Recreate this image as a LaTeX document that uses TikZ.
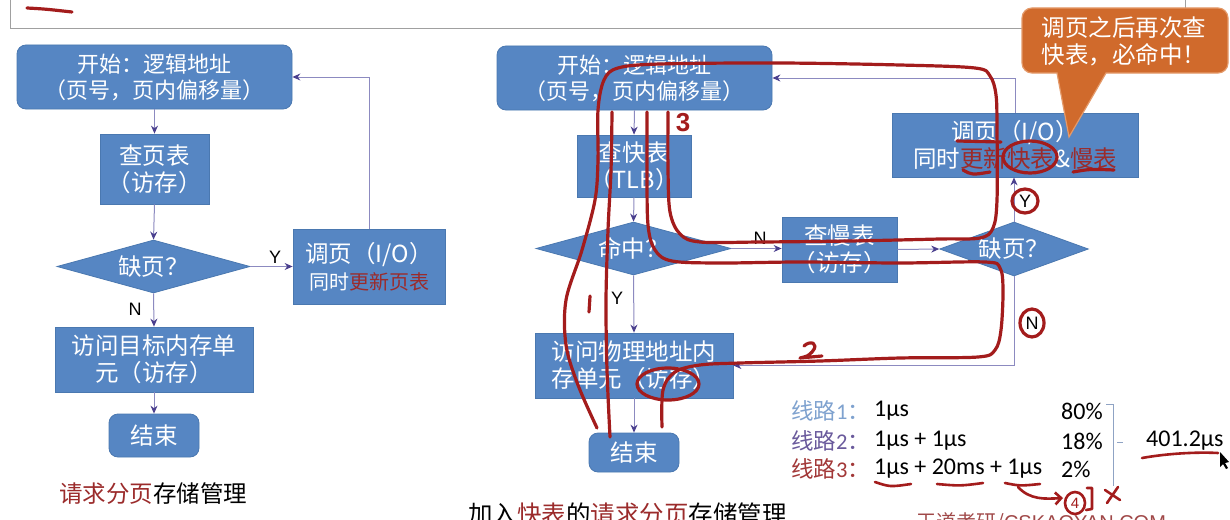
\documentclass[tikz,border=0pt]{standalone}
\usepackage{fontspec}
\setmainfont{Noto Sans CJK SC}
\newfontfamily\calfont{Carlito}
\newfontfamily\arifont{Liberation Sans}
\usetikzlibrary{shapes.geometric,arrows.meta}
\definecolor{boxblue}{HTML}{5686C3}
\definecolor{boxedge}{HTML}{4A78B0}
\definecolor{connc}{HTML}{8C8AC0}
\definecolor{tipc}{HTML}{4A3F8E}
\definecolor{dred}{HTML}{9B2B2B}
\definecolor{handred}{HTML}{A31C1C}
\definecolor{calloutc}{HTML}{D06A2C}
\definecolor{calloute}{HTML}{E49A6A}
\definecolor{lineone}{HTML}{7FA2CF}
\definecolor{linetwo}{HTML}{6A5A9C}
\definecolor{linethree}{HTML}{A23838}
\definecolor{framec}{HTML}{A0A0A0}
\definecolor{bracec}{HTML}{8FA3C4}
\definecolor{wmark}{HTML}{A04848}
\tikzset{
 box/.style={draw=boxedge, line width=0.8pt, fill=boxblue, text=white, inner sep=0pt, align=center, font=\fontsize{23.5}{27}\selectfont},
 rbox/.style={box, rounded corners=9pt},
 startbox/.style={rbox, font=\fontsize{22}{26}\selectfont},
 dia/.style={box, shape=diamond, shape aspect=3.6},
 conn/.style={draw=connc, line width=1pt, -{Stealth[length=8pt,width=7pt,color=tipc]}},
 yn/.style={font=\arifont\fontsize{18}{18}\selectfont, text=black, inner sep=0pt},
 hand/.style={draw=handred, line width=3.2pt, line cap=round, line join=round},
 handlab/.style={text=handred, font=\arifont\bfseries\fontsize{26}{26}\selectfont, inner sep=0pt},
 rowlab/.style={anchor=west, inner sep=0pt, font=\fontsize{22.5}{23}\selectfont},
 rowval/.style={anchor=west, inner sep=0pt, font=\calfont\fontsize{24}{24}\selectfont, text=black},
}
\begin{document}
\begin{tikzpicture}[x=1pt,y=-1pt]
\useasboundingbox (0,0) rectangle (1230,519);
\clip (0,0) rectangle (1230,519);
\fill[white] (0,0) rectangle (1230,519);
% top frame
\draw[framec, line width=1pt] (10,-10) -- (10,29) -- (1185,29) -- (1185,-10);
\draw[hand] (27,8) .. controls (45,9) .. (72,12);

% ---------- left flowchart ----------
\node[startbox, minimum width=275pt, minimum height=64pt] (sl) at (154.5,77) {开始：逻辑地址\\（页号，页内偏移量）};
\node[box, minimum width=109pt, minimum height=70pt] (pl) at (154.5,169) {查页表\\（访存）};
\node[dia, minimum width=193pt, minimum height=53pt] (ql) at (153.5,266.5) {缺页？};
\node[box, minimum width=152pt, minimum height=75pt] (tl) at (369,266.5) {调页（I/O）\\{\fontsize{20}{26}\selectfont 同时\textcolor{dred}{更新页表}}};
\node[box, minimum width=198pt, minimum height=65pt] (al) at (154,359.5) {访问目标内存单\\元（访存）};
\node[rbox, minimum width=90pt, minimum height=43pt] (el) at (154,435.5) {结束};
\draw[conn] (sl.south) -- (pl.north);
\draw[conn] (pl.south) -- (ql.north);
\draw[conn] (ql.east) -- (tl.west);
\draw[conn] (tl.north) |- (sl.east);
\draw[conn] (ql.south) -- (al.north);
\draw[conn] (al.south) -- (el.north);
\node[yn] (yl) at (275,257) {Y};
\node[yn] (nl) at (135,309) {N};
\node[inner sep=0pt, font=\fontsize{23.5}{24}\selectfont] (capl) at (153,494) {\textcolor{dred}{请求分页}存储管理};

% ---------- right flowchart ----------
\node[startbox, minimum width=275pt, minimum height=64pt] (sr) at (634.5,78) {开始：逻辑地址\\（页号，页内偏移量）};
\node[box, minimum width=114pt, minimum height=62pt] (fr) at (634,166) {查快表\\（TLB）};
\node[dia, minimum width=195pt, minimum height=53pt] (hr) at (633.5,248.5) {命中？};
\node[box, minimum width=115pt, minimum height=65pt] (mr) at (839.5,249.5) {查慢表\\（访存）};
\node[dia, minimum width=138pt, minimum height=54pt] (qr) at (1014,249) {缺页？};
\node[box, minimum width=246pt, minimum height=64pt] (tr) at (1015,145) {调页（I/O）\\同时\textcolor{dred}{更新快表}\&\textcolor{dred}{慢表}};
\node[box, minimum width=198pt, minimum height=65pt] (ar) at (634,365.5) {访问物理地址内\\存单元（访存）};
\node[rbox, minimum width=90pt, minimum height=39pt] (er) at (634,452.5) {结束};
\draw[conn] (sr.south) -- (fr.north);
\draw[conn] (fr.south) -- (hr.north);
\draw[conn] (hr.east) -- (hr.east -| mr.west);
\draw[conn] (mr.east) -- (qr.west);
\draw[conn] (qr.north) -- (qr.north |- tr.south);
\draw[conn] (tr.north) |- (sr.east);
\draw[conn] (qr.south) |- (ar.east);
\draw[conn] (hr.south) -- (ar.north);
\draw[conn] (ar.south) -- (er.north);
\node[yn] (nr1) at (760,238) {N};
\node[yn] (yr1) at (617,298) {Y};
\node[yn] (yr2) at (1025,201) {Y};
\node[yn] (nr2) at (1032,323) {N};
\node[anchor=west, inner sep=0pt, font=\fontsize{24.5}{25}\selectfont] (capr) at (468,514) {加入\textcolor{dred}{快表}的\textcolor{dred}{请求分页}存储管理};

% callout
\draw[fill=calloutc, draw=calloute, line width=1.2pt] (1057,73) [rounded corners=10pt] -- (1022,73) -- (1022,8) -- (1228,8) -- (1228,73) [sharp corners] -- (1106,73) -- (1069,137) -- cycle;
\node[text=white, font=\fontsize{23.5}{27}\selectfont, align=center, inner sep=0pt] (callt) at (1124,41) {调页之后再次查\\快表，必命中！};

% ---------- table ----------
\node[rowlab] (r1) at (791,411) {\textcolor{lineone}{线路{\calfont 1}：}};
\node[rowlab] (r2) at (791,441) {\textcolor{linetwo}{线路{\calfont 2}：}};
\node[rowlab] (r3) at (791,469) {\textcolor{linethree}{线路{\calfont 3}：}};
\node[rowval] (v1) at (874,411) {1μs};
\node[rowval] (v2) at (874,441) {1μs + 1μs};
\node[rowval] (v3) at (874,469) {1μs + 20ms + 1μs};
\node[rowval] (p1) at (1061,411) {80\%};
\node[rowval] (p2) at (1061,441) {18\%};
\node[rowval] (p3) at (1061,469) {2\%};
\draw[bracec, line width=1pt] (1106,404) -- (1113,404) -- (1113,486);
\draw[bracec, line width=1pt] (1117,442) -- (1123,442);
\node[rowval] (tot) at (1146,441) {401.2μs};
\node[anchor=west, inner sep=0pt, text=wmark, font=\fontsize{20}{21}\selectfont] (wm) at (916,523) {王道考研/{\arifont CSKAOYAN.COM}};

% ---------- hand-drawn red annotations ----------
\draw[hand] plot[smooth, tension=0.55] coordinates {(668,112) (668,170) (670,212) (680,234) (700,242) (760,242) (850,241) (940,239) (980,238) (993,228) (997,200) (997,130) (996,95) (990,76) (975,68) (900,65) (780,63) (660,64) (618,68) (604,80) (598,110) (598,160) (595,200) (582,250) (566,300) (566,345) (578,385) (597,428)};
\draw[hand] plot[smooth, tension=0.55] coordinates {(647,112) (647,170) (648,225) (655,250) (672,261) (720,263) (800,262) (900,263) (985,262) (1000,268) (1003,290) (1001,330) (995,350) (978,357) (900,358) (820,361) (740,363) (700,365) (675,372) (663,390) (662,427)};
\draw[hand] plot[smooth, tension=0.55] coordinates {(612,112) (611,170) (608,230) (606,300) (607,370) (610,437)};
\draw[hand] (668,384) ellipse [x radius=31, y radius=16];
\node[handlab] (n3) at (683,123) {3};
\draw[hand] (590,296) -- (589,312);
\draw[hand] (804,346) .. controls (810,340) and (820,343) .. (812,352) .. controls (808,356) .. (800,358) -- (822,356);
% on right paging box
\draw[hand] (957,141) -- (1001,142);
\draw[hand] (963,170) .. controls (972,175) .. (990,172);
\draw[hand] (1030,157) ellipse [x radius=27, y radius=16];
\draw[hand] (1073,172) .. controls (1090,169) .. (1114,170);
\draw[hand] (1025,201) ellipse [x radius=13, y radius=12];
\draw[hand] (1032,323) ellipse [x radius=12, y radius=14];
% bottom right
\draw[hand, line width=2.6pt] (875,482) .. controls (890,487) .. (911,484);
\draw[hand, line width=2.6pt] (937,484) .. controls (960,486) .. (983,483);
\draw[hand, line width=2.6pt] (1005,483) .. controls (1020,486) .. (1040,484);
\draw[hand, line width=2.6pt, -{Straight Barb[length=6pt]}] (1018,487) .. controls (1030,500) and (1045,499) .. (1063,498);
\draw[hand, line width=2.6pt] (1075,503) ellipse [x radius=10, y radius=11];
\node[handlab, font=\arifont\fontsize{15}{15}\selectfont] (n4) at (1075,503) {4};
\draw[hand, line width=2.6pt] (1087,488) -- (1092,488) -- (1092,509) -- (1086,510);
\draw[hand, line width=2.6pt] (1105,490) -- (1120,500);
\draw[hand, line width=2.6pt] (1107,503) -- (1118,487);
\draw[hand, line width=2.6pt] (1142,458) .. controls (1170,453) and (1200,452) .. (1218,453);
% mouse cursor
\fill[black] (1220,452) -- (1220,467) -- (1223,464) -- (1226,469) -- (1228,468) -- (1225,463) -- (1229,462) -- cycle;
\end{tikzpicture}
\end{document}
